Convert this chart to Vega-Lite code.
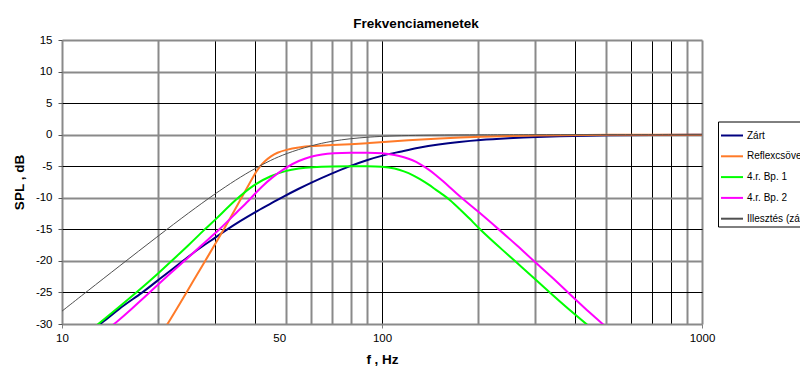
{
  "$schema": "https://vega.github.io/schema/vega-lite/v6.json",
  "width": 640,
  "height": 284,
  "autosize": {"type": "none"},
  "padding": {"left": 62, "top": 40, "right": 98, "bottom": 55},
  "background": "#ffffff",
  "title": {
    "text": "Frekvenciamenetek",
    "font": "Liberation Sans",
    "fontSize": 13.5,
    "fontWeight": "bold",
    "color": "#000000",
    "anchor": "middle",
    "frame": "group",
    "baseline": "alphabetic",
    "dx": 34,
    "offset": -7.5
  },
  "config": {
    "view": {"stroke": null},
    "axis": {
      "labelFont": "Liberation Sans",
      "labelFontSize": 11.5,
      "labelColor": "#000000",
      "titleFont": "Liberation Sans",
      "titleFontSize": 13.5,
      "titleFontWeight": "bold",
      "titleColor": "#000000",
      "domain": false
    }
  },
  "data": {
    "values": [
      {"s": "Zárt", "f": 10, "db": -34.2}, {"s": "Zárt", "f": 12, "db": -31.1}, {"s": "Zárt", "f": 13.27, "db": -30}, {"s": "Zárt", "f": 15, "db": -27.6},
      {"s": "Zárt", "f": 17.9, "db": -25}, {"s": "Zárt", "f": 20, "db": -23.0}, {"s": "Zárt", "f": 23.9, "db": -20}, {"s": "Zárt", "f": 27, "db": -17.9},
      {"s": "Zárt", "f": 30, "db": -16.4}, {"s": "Zárt", "f": 32.6, "db": -15.1}, {"s": "Zárt", "f": 36, "db": -13.7}, {"s": "Zárt", "f": 40, "db": -12.3},
      {"s": "Zárt", "f": 45, "db": -10.9}, {"s": "Zárt", "f": 49, "db": -9.85}, {"s": "Zárt", "f": 55, "db": -8.55}, {"s": "Zárt", "f": 60, "db": -7.6},
      {"s": "Zárt", "f": 70, "db": -6.1}, {"s": "Zárt", "f": 79, "db": -5.0}, {"s": "Zárt", "f": 90, "db": -4.0}, {"s": "Zárt", "f": 100, "db": -3.3},
      {"s": "Zárt", "f": 114, "db": -2.7}, {"s": "Zárt", "f": 130, "db": -2.05}, {"s": "Zárt", "f": 150, "db": -1.55}, {"s": "Zárt", "f": 175, "db": -1.15},
      {"s": "Zárt", "f": 200, "db": -0.85}, {"s": "Zárt", "f": 250, "db": -0.55}, {"s": "Zárt", "f": 300, "db": -0.35}, {"s": "Zárt", "f": 400, "db": -0.2},
      {"s": "Zárt", "f": 500, "db": -0.1}, {"s": "Zárt", "f": 700, "db": -0.05}, {"s": "Zárt", "f": 1000, "db": 0},

      {"s": "Reflexcsöves", "f": 15, "db": -42.3}, {"s": "Reflexcsöves", "f": 18, "db": -36}, {"s": "Reflexcsöves", "f": 21.4, "db": -30},
      {"s": "Reflexcsöves", "f": 24.5, "db": -25}, {"s": "Reflexcsöves", "f": 28, "db": -20}, {"s": "Reflexcsöves", "f": 32.1, "db": -15},
      {"s": "Reflexcsöves", "f": 36.4, "db": -10}, {"s": "Reflexcsöves", "f": 40, "db": -6.2}, {"s": "Reflexcsöves", "f": 41.4, "db": -5.1},
      {"s": "Reflexcsöves", "f": 43, "db": -4.2}, {"s": "Reflexcsöves", "f": 45, "db": -3.4}, {"s": "Reflexcsöves", "f": 47, "db": -2.85},
      {"s": "Reflexcsöves", "f": 50, "db": -2.4}, {"s": "Reflexcsöves", "f": 55, "db": -2.0}, {"s": "Reflexcsöves", "f": 60, "db": -1.8},
      {"s": "Reflexcsöves", "f": 70, "db": -1.65}, {"s": "Reflexcsöves", "f": 80, "db": -1.5}, {"s": "Reflexcsöves", "f": 90, "db": -1.35},
      {"s": "Reflexcsöves", "f": 100, "db": -1.2}, {"s": "Reflexcsöves", "f": 120, "db": -0.9}, {"s": "Reflexcsöves", "f": 150, "db": -0.6},
      {"s": "Reflexcsöves", "f": 200, "db": -0.3}, {"s": "Reflexcsöves", "f": 300, "db": -0.1}, {"s": "Reflexcsöves", "f": 500, "db": -0.02},
      {"s": "Reflexcsöves", "f": 1000, "db": 0},

      {"s": "4.r. Bp. 1", "f": 10, "db": -34.6}, {"s": "4.r. Bp. 1", "f": 13, "db": -30}, {"s": "4.r. Bp. 1", "f": 15, "db": -27.4},
      {"s": "4.r. Bp. 1", "f": 17.1, "db": -25}, {"s": "4.r. Bp. 1", "f": 20, "db": -22.0}, {"s": "4.r. Bp. 1", "f": 22, "db": -20},
      {"s": "4.r. Bp. 1", "f": 25, "db": -17.4}, {"s": "4.r. Bp. 1", "f": 27.9, "db": -15}, {"s": "4.r. Bp. 1", "f": 30, "db": -13.6},
      {"s": "4.r. Bp. 1", "f": 35, "db": -10.2}, {"s": "4.r. Bp. 1", "f": 40, "db": -7.8}, {"s": "4.r. Bp. 1", "f": 45, "db": -6.5},
      {"s": "4.r. Bp. 1", "f": 50, "db": -5.7}, {"s": "4.r. Bp. 1", "f": 55, "db": -5.35}, {"s": "4.r. Bp. 1", "f": 60, "db": -5.15},
      {"s": "4.r. Bp. 1", "f": 70, "db": -5.02}, {"s": "4.r. Bp. 1", "f": 80, "db": -5.0}, {"s": "4.r. Bp. 1", "f": 90, "db": -5.0},
      {"s": "4.r. Bp. 1", "f": 100, "db": -5.05}, {"s": "4.r. Bp. 1", "f": 110, "db": -5.35}, {"s": "4.r. Bp. 1", "f": 117, "db": -5.8},
      {"s": "4.r. Bp. 1", "f": 125, "db": -6.4}, {"s": "4.r. Bp. 1", "f": 131, "db": -7.0}, {"s": "4.r. Bp. 1", "f": 140, "db": -7.9},
      {"s": "4.r. Bp. 1", "f": 147, "db": -8.7}, {"s": "4.r. Bp. 1", "f": 155, "db": -9.5}, {"s": "4.r. Bp. 1", "f": 163, "db": -10.3},
      {"s": "4.r. Bp. 1", "f": 175, "db": -11.8}, {"s": "4.r. Bp. 1", "f": 188, "db": -13.3}, {"s": "4.r. Bp. 1", "f": 202, "db": -15},
      {"s": "4.r. Bp. 1", "f": 230, "db": -17.6}, {"s": "4.r. Bp. 1", "f": 260, "db": -20}, {"s": "4.r. Bp. 1", "f": 300, "db": -22.8},
      {"s": "4.r. Bp. 1", "f": 334, "db": -25}, {"s": "4.r. Bp. 1", "f": 380, "db": -27.5}, {"s": "4.r. Bp. 1", "f": 435, "db": -30},
      {"s": "4.r. Bp. 1", "f": 500, "db": -32.6},

      {"s": "4.r. Bp. 2", "f": 10, "db": -36.6}, {"s": "4.r. Bp. 2", "f": 12, "db": -33.4}, {"s": "4.r. Bp. 2", "f": 14.6, "db": -30},
      {"s": "4.r. Bp. 2", "f": 16.5, "db": -27.6}, {"s": "4.r. Bp. 2", "f": 18.8, "db": -25}, {"s": "4.r. Bp. 2", "f": 21, "db": -22.7},
      {"s": "4.r. Bp. 2", "f": 24.2, "db": -20}, {"s": "4.r. Bp. 2", "f": 27, "db": -17.7}, {"s": "4.r. Bp. 2", "f": 31.1, "db": -15},
      {"s": "4.r. Bp. 2", "f": 35, "db": -12.4}, {"s": "4.r. Bp. 2", "f": 38.6, "db": -10.3}, {"s": "4.r. Bp. 2", "f": 40, "db": -9.4},
      {"s": "4.r. Bp. 2", "f": 42, "db": -8.3}, {"s": "4.r. Bp. 2", "f": 45, "db": -6.9}, {"s": "4.r. Bp. 2", "f": 50, "db": -5.2},
      {"s": "4.r. Bp. 2", "f": 55, "db": -4.1}, {"s": "4.r. Bp. 2", "f": 60, "db": -3.45}, {"s": "4.r. Bp. 2", "f": 65, "db": -3.1},
      {"s": "4.r. Bp. 2", "f": 70, "db": -2.95}, {"s": "4.r. Bp. 2", "f": 80, "db": -2.85}, {"s": "4.r. Bp. 2", "f": 90, "db": -2.85},
      {"s": "4.r. Bp. 2", "f": 100, "db": -2.9}, {"s": "4.r. Bp. 2", "f": 110, "db": -3.2}, {"s": "4.r. Bp. 2", "f": 117, "db": -3.55},
      {"s": "4.r. Bp. 2", "f": 125, "db": -4.05}, {"s": "4.r. Bp. 2", "f": 131, "db": -4.6}, {"s": "4.r. Bp. 2", "f": 140, "db": -5.5},
      {"s": "4.r. Bp. 2", "f": 147, "db": -6.35}, {"s": "4.r. Bp. 2", "f": 155, "db": -7.35}, {"s": "4.r. Bp. 2", "f": 163, "db": -8.35},
      {"s": "4.r. Bp. 2", "f": 170, "db": -9.2}, {"s": "4.r. Bp. 2", "f": 180, "db": -10.3}, {"s": "4.r. Bp. 2", "f": 200, "db": -12.2},
      {"s": "4.r. Bp. 2", "f": 231.6, "db": -15}, {"s": "4.r. Bp. 2", "f": 265, "db": -17.6}, {"s": "4.r. Bp. 2", "f": 297.6, "db": -20},
      {"s": "4.r. Bp. 2", "f": 340, "db": -22.6}, {"s": "4.r. Bp. 2", "f": 381, "db": -25}, {"s": "4.r. Bp. 2", "f": 430, "db": -27.5},
      {"s": "4.r. Bp. 2", "f": 490, "db": -30}, {"s": "4.r. Bp. 2", "f": 560, "db": -32.7},

      {"s": "Illesztés (zárt)", "f": 10, "db": -27.96}, {"s": "Illesztés (zárt)", "f": 12, "db": -24.8}, {"s": "Illesztés (zárt)", "f": 15, "db": -20.95},
      {"s": "Illesztés (zárt)", "f": 20, "db": -16.03}, {"s": "Illesztés (zárt)", "f": 25, "db": -12.3}, {"s": "Illesztés (zárt)", "f": 30, "db": -9.4},
      {"s": "Illesztés (zárt)", "f": 35, "db": -7.13}, {"s": "Illesztés (zárt)", "f": 40, "db": -5.37}, {"s": "Illesztés (zárt)", "f": 45, "db": -4.02},
      {"s": "Illesztés (zárt)", "f": 50, "db": -3.01}, {"s": "Illesztés (zárt)", "f": 60, "db": -1.71}, {"s": "Illesztés (zárt)", "f": 70, "db": -1.0},
      {"s": "Illesztés (zárt)", "f": 80, "db": -0.62}, {"s": "Illesztés (zárt)", "f": 90, "db": -0.4}, {"s": "Illesztés (zárt)", "f": 100, "db": -0.26},
      {"s": "Illesztés (zárt)", "f": 120, "db": -0.13}, {"s": "Illesztés (zárt)", "f": 150, "db": -0.05}, {"s": "Illesztés (zárt)", "f": 200, "db": -0.02},
      {"s": "Illesztés (zárt)", "f": 300, "db": 0}, {"s": "Illesztés (zárt)", "f": 1000, "db": 0}
    ]
  },
  "mark": {"type": "line", "clip": true, "interpolate": "basis"},
  "encoding": {
    "x": {
      "field": "f",
      "type": "quantitative",
      "scale": {"type": "log", "domain": [10, 1000], "nice": false},
      "axis": {
        "title": "f , Hz",
        "titleX": 320,
        "titleY": 39,
        "titleAlign": "center",
        "titleBaseline": "alphabetic",
        "values": [10, 20, 30, 40, 50, 60, 70, 80, 90, 100, 200, 300, 400, 500, 600, 700, 800, 900, 1000],
        "labelExpr": "(datum.value == 10 || datum.value == 50 || datum.value == 100 || datum.value == 1000) ? '' + datum.value : ''",
        "labelOverlap": false,
        "labelFlush": false,
        "labelAlign": {"condition": {"test": "datum.value == 50", "value": "right"}, "value": "center"},
        "labelPadding": 4,
        "tickSize": 4,
        "tickColor": "#808080",
        "tickWidth": 1,
        "tickOpacity": {"condition": {"test": "datum.value == 10 || datum.value == 100 || datum.value == 1000", "value": 1}, "value": 0},
        "grid": true,
        "gridColor": {"condition": {"test": "indexof([30, 40, 100, 400, 600, 700, 800], datum.value) >= 0", "value": "#000000"}, "value": "#8a8a8a"},
        "gridWidth": {"condition": {"test": "indexof([30, 40, 100, 400, 600, 700, 800], datum.value) >= 0", "value": 1}, "value": 2},
        "gridOpacity": 1
      }
    },
    "y": {
      "field": "db",
      "type": "quantitative",
      "scale": {"domain": [-30, 15], "nice": false},
      "axis": {
        "title": "SPL , dB",
        "titleX": -43,
        "titleY": 142,
        "titleAlign": "center",
        "titleBaseline": "middle",
        "values": [-30, -25, -20, -15, -10, -5, 0, 5, 10, 15],
        "labelExpr": "'' + datum.value",
        "labelOverlap": false,
        "labelPadding": 6,
        "tickSize": 4,
        "tickColor": "#555555",
        "grid": true,
        "gridColor": {"condition": {"test": "datum.value % 10 == 0 || datum.value == 15", "value": "#8a8a8a"}, "value": "#000000"},
        "gridWidth": {"condition": {"test": "datum.value % 10 == 0 || datum.value == 15", "value": 2}, "value": 1},
        "gridOpacity": 1
      }
    },
    "color": {
      "field": "s",
      "type": "nominal",
      "scale": {
        "domain": ["Zárt", "Reflexcsöves", "4.r. Bp. 1", "4.r. Bp. 2", "Illesztés (zárt)"],
        "range": ["#000080", "#FF7A28", "#00FF00", "#FF00FF", "#505050"]
      },
      "legend": {
        "orient": "none",
        "legendX": 656,
        "legendY": 81.5,
        "title": null,
        "symbolType": "stroke",
        "symbolSize": 484,
        "symbolStrokeWidth": 2,
        "labelFont": "Liberation Sans",
        "labelFontSize": 10,
        "labelColor": "#000000",
        "labelOffset": 3,
        "rowPadding": 3.8,
        "padding": 2,
        "strokeColor": "#000000",
        "fillColor": "#ffffff"
      }
    },
    "strokeWidth": {
      "condition": {"test": "datum.s == 'Illesztés (zárt)'", "value": 1},
      "value": 2
    }
  }
}
